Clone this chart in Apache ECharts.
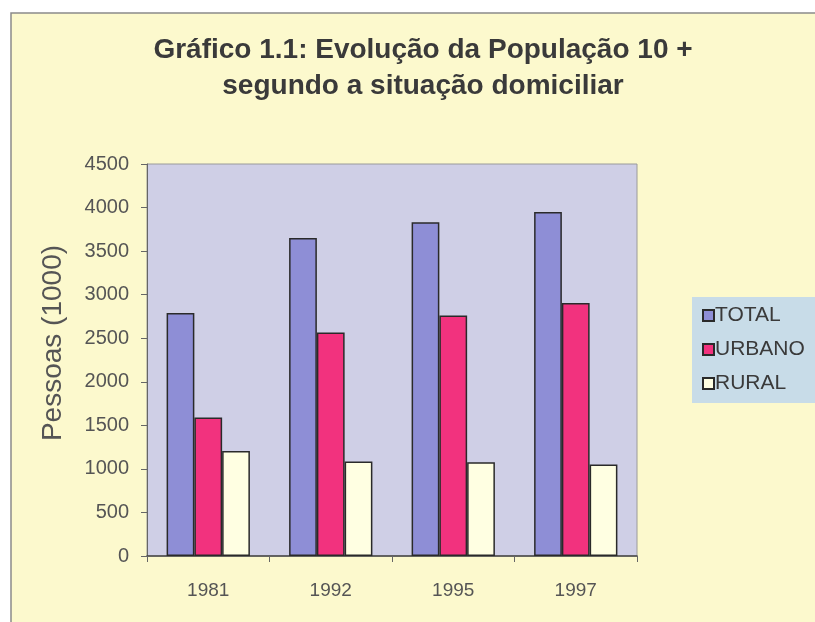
<!DOCTYPE html>
<html>
<head>
<meta charset="utf-8">
<script src="https://cdn.jsdelivr.net/npm/echarts@6/dist/echarts.min.js"></script>
<style>html,body{margin:0;padding:0;background:#fff}#c{width:815px;height:622px}</style>
</head>
<body>
<div id="c"></div>
<script>
const categories = ['1981', '1992', '1995', '1997'];
const totalValues = [2790, 3650, 3830, 3950];
const urbanoValues = [1590, 2565, 2760, 2905];
const ruralValues = [1205, 1085, 1075, 1050];
const yTicks = [0, 500, 1000, 1500, 2000, 2500, 3000, 3500, 4000, 4500];

const chart = echarts.init(document.getElementById('c'));
const barBorder = { borderColor: '#2a2a2a', borderWidth: 1.5 };
const FONT = 'Liberation Sans, Arial';
chart.setOption({
  backgroundColor: '#ffffff',
  animation: false,
  graphic: [
    { type: 'rect', z: -10, shape: { x: 11, y: 13, width: 815, height: 622 },
      style: { fill: '#FCF9CD', stroke: '#8a8a8a', lineWidth: 1.5 } },
    { type: 'rect', z: -5, shape: { x: 692, y: 297, width: 130, height: 106 },
      style: { fill: '#C8DCE8' } }
  ],
  title: {
    text: 'Gráfico 1.1: Evolução da População 10 +\nsegundo a situação domiciliar',
    left: 418, textAlign: 'center', top: 27,
    textStyle: { fontFamily: FONT, fontSize: 28, fontWeight: 'bold', color: '#3a3a3a', lineHeight: 36 }
  },
  legend: {
    orient: 'vertical', left: 697, top: 300, itemGap: 13,
    itemWidth: 11, itemHeight: 11, icon: 'rect',
    textStyle: { fontFamily: FONT, fontSize: 21, color: '#3a3a3a', padding: [0, 0, 0, -4] },
    data: ['TOTAL', 'URBANO', 'RURAL']
  },
  grid: {
    left: 147, right: 178, top: 164, bottom: 66,
    show: true, backgroundColor: '#CFCFE6', borderColor: '#9a9a9a', borderWidth: 1
  },
  xAxis: {
    type: 'category', data: categories,
    axisLine: { lineStyle: { color: '#444', width: 1.5 } },
    axisTick: { show: true, length: 6, lineStyle: { color: '#666' } },
    axisLabel: { fontFamily: FONT, fontSize: 19, color: '#555', margin: 25 }
  },
  yAxis: {
    type: 'value', min: 0, max: 4500, interval: 500,
    name: 'Pessoas (1000)', nameLocation: 'middle', nameGap: 80, nameRotate: 90,
    nameTextStyle: { fontFamily: FONT, fontSize: 28, color: '#555', padding: [0, 0, 0, 34] },
    axisLine: { show: true, lineStyle: { color: '#666' } },
    axisTick: { show: true, length: 6, lineStyle: { color: '#666' } },
    splitLine: { show: false },
    axisLabel: { fontFamily: FONT, fontSize: 20, color: '#555', margin: 18,
      formatter: v => yTicks.includes(v) ? String(v) : '' }
  },
  series: [
    { name: 'TOTAL', type: 'bar', data: totalValues, barGap: '0%', barCategoryGap: '32%',
      itemStyle: Object.assign({ color: '#8E8ED6' }, barBorder) },
    { name: 'URBANO', type: 'bar', data: urbanoValues,
      itemStyle: Object.assign({ color: '#F2327E' }, barBorder) },
    { name: 'RURAL', type: 'bar', data: ruralValues,
      itemStyle: Object.assign({ color: '#FFFFE2' }, barBorder) }
  ]
});
</script>
</body>
</html>
